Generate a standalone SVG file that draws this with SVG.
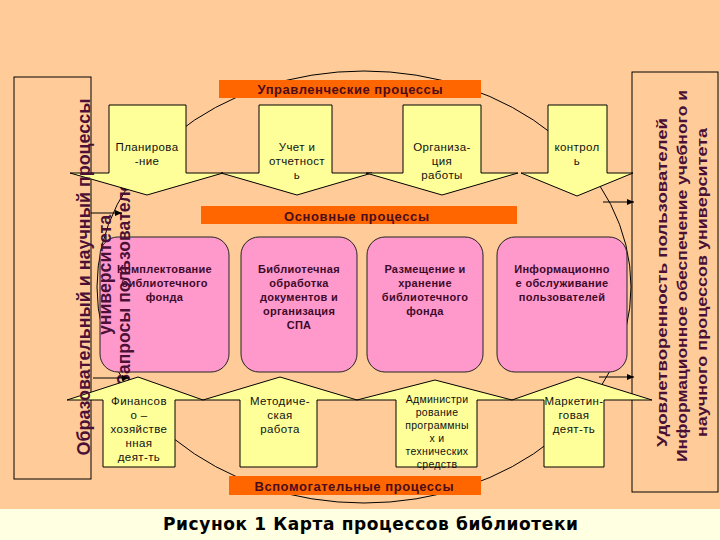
<svg xmlns="http://www.w3.org/2000/svg" width="720" height="540" viewBox="0 0 720 540">
<defs>
<style>
.frame{fill:none;stroke:#000;stroke-width:1}
.yel{fill:#FFFF99;stroke:#000;stroke-width:1}
.pink{fill:#FF99CC;stroke:#222;stroke-width:1}
.ban{fill:#FF6600}
.bt{font-family:"Liberation Sans",Arial,sans-serif;font-weight:bold;font-size:13px;fill:#4a0d1c;text-anchor:middle}
.pt{font-family:"Liberation Sans",Arial,sans-serif;font-weight:bold;font-size:11px;fill:#3d0a2a;text-anchor:middle;letter-spacing:0.3px}
.yt{font-family:"Liberation Sans",Arial,sans-serif;font-size:11.5px;fill:#111;text-anchor:middle;letter-spacing:0.4px}
.ys{font-size:10.5px;letter-spacing:0.3px}
.vt{font-family:"Liberation Sans",Arial,sans-serif;font-weight:bold;fill:#4a1035;text-anchor:middle}
.conn{stroke:#000;stroke-width:1;fill:none}
</style>
<marker id="ah" markerWidth="8" markerHeight="8" refX="7" refY="4" orient="auto" markerUnits="userSpaceOnUse"><path d="M0,1 L7,4 L0,7 Z" fill="#000"/></marker>
</defs>
<rect x="0" y="0" width="720" height="540" fill="#FFCC99"/>
<rect x="0" y="509" width="720" height="31" fill="#FFFFE1"/>
<ellipse cx="364" cy="287" rx="267" ry="216" class="frame"/>

<g id="left-box"><rect x="14" y="77" width="77" height="402" class="frame"/></g>
<g id="right-box">
<rect x="632" y="72" width="86" height="420" class="frame"/>
<text class="vt" font-size="15" transform="translate(667,282.5) rotate(-90)" textLength="329" lengthAdjust="spacingAndGlyphs">Удовлетворенность пользователей</text>
<text class="vt" font-size="15" transform="translate(687,276) rotate(-90)" textLength="372" lengthAdjust="spacingAndGlyphs">Информационное обеспечение учебного и</text>
<text class="vt" font-size="15" transform="translate(707,282.5) rotate(-90)" textLength="309" lengthAdjust="spacingAndGlyphs">научного процессов университета</text>
</g>

<g id="box1"><rect x="100" y="237" width="129" height="135" rx="18" class="pink"/>
<text class="pt"><tspan x="164.5" y="273">Комплектование</tspan><tspan x="164.5" y="287">библиотечного</tspan><tspan x="164.5" y="301">фонда</tspan></text></g>
<g id="box2"><rect x="241" y="237" width="116" height="135" rx="18" class="pink"/>
<text class="pt"><tspan x="299" y="273">Библиотечная</tspan><tspan x="299" y="287">обработка</tspan><tspan x="299" y="301">документов и</tspan><tspan x="299" y="315">организация</tspan><tspan x="299" y="329">СПА</tspan></text></g>
<g id="box3"><rect x="367" y="237" width="116" height="135" rx="18" class="pink"/>
<text class="pt"><tspan x="425" y="273">Размещение и</tspan><tspan x="425" y="287">хранение</tspan><tspan x="425" y="301">библиотечного</tspan><tspan x="425" y="315">фонда</tspan></text></g>
<g id="box4"><rect x="497" y="237" width="130" height="135" rx="18" class="pink"/>
<text class="pt"><tspan x="562" y="273">Информационно</tspan><tspan x="562" y="287">е обслуживание</tspan><tspan x="562" y="301">пользователей</tspan></text></g>

<g id="requests">
<text class="vt" font-size="18" transform="translate(110.5,275) rotate(-90)" textLength="120" lengthAdjust="spacingAndGlyphs">университета</text>
<text class="vt" font-size="18" transform="translate(130,278) rotate(-90)" textLength="214" lengthAdjust="spacingAndGlyphs">Запросы пользователей</text>
</g>

<g id="top1"><polygon class="yel" points="109,105 186,105 186,173 223,173 147,195 70,173 109,173"/>
<text class="yt"><tspan x="147" y="151">Планирова</tspan><tspan x="147" y="165">-ние</tspan></text></g>
<g id="top2"><polygon class="yel" points="259,105 332,105 332,173 372,173 297,195 221,173 259,173"/>
<text class="yt"><tspan x="297" y="151">Учет и</tspan><tspan x="297" y="165">отчетност</tspan><tspan x="297" y="179">ь</tspan></text></g>
<g id="top3"><polygon class="yel" points="403,105 481,105 481,173 518,173 442,195 366,173 403,173"/>
<text class="yt"><tspan x="442" y="151">Организа-</tspan><tspan x="442" y="165">ция</tspan><tspan x="442" y="179">работы</tspan></text></g>
<g id="top4"><polygon class="yel" points="548,105 607,105 607,173 633,173 577,196 521,173 548,173"/>
<text class="yt"><tspan x="577" y="151">контрол</tspan><tspan x="577" y="165">ь</tspan></text></g>

<g id="bot1"><polygon class="yel" points="103,467 103,400 67,400 138,377 203,400 175,400 175,467"/>
<text class="yt"><tspan x="139" y="405">Финансов</tspan><tspan x="139" y="419">о –</tspan><tspan x="139" y="433">хозяйстве</tspan><tspan x="139" y="447">нная</tspan><tspan x="139" y="461">деят-ть</tspan></text></g>
<g id="bot2"><polygon class="yel" points="240,467 240,400 203,400 280,377 357,400 317,400 317,467"/>
<text class="yt"><tspan x="280" y="405">Методиче-</tspan><tspan x="280" y="419">ская</tspan><tspan x="280" y="433">работа</tspan></text></g>
<g id="bot3"><polygon class="yel" points="396,467 396,400 357,400 435,380 512,400 477,400 477,467"/>
<text class="yt ys"><tspan x="437" y="403">Администри</tspan><tspan x="437" y="416">рование</tspan><tspan x="437" y="429">программны</tspan><tspan x="437" y="442">х  и</tspan><tspan x="437" y="455">технических</tspan><tspan x="437" y="468">средств</tspan></text></g>
<g id="bot4"><polygon class="yel" points="544,467 544,400 512,400 578,377 652,400 604,400 604,467"/>
<text class="yt"><tspan x="574" y="405">Маркетин-</tspan><tspan x="574" y="419">говая</tspan><tspan x="574" y="433">деят-ть</tspan></text></g>

<g id="banner-top"><rect class="ban" x="219" y="80" width="262" height="18"/>
<text class="bt" x="350" y="94" textLength="185">Управленческие процессы</text></g>
<g id="banner-main"><rect class="ban" x="201" y="206" width="316" height="18"/>
<text class="bt" x="356.5" y="221" textLength="145">Основные процессы</text></g>
<g id="banner-aux"><rect class="ban" x="229" y="476" width="252" height="19"/>
<text class="bt" x="354" y="491" textLength="199">Вспомогательные процессы</text></g>

<g id="connectors">
<path class="conn" d="M91,213 H122" marker-end="url(#ah)"/>
<path class="conn" d="M93,378 H129" marker-end="url(#ah)"/>
<path class="conn" d="M603,202 H634" marker-end="url(#ah)"/>
<path class="conn" d="M599,377 H634" marker-end="url(#ah)"/>
</g>

<g id="edu-text">
<text class="vt" font-size="18" transform="translate(90,277) rotate(-90)" textLength="357" lengthAdjust="spacingAndGlyphs">Образовательный и научный процессы</text>
</g>

<text x="370.5" y="530" font-family="'DejaVu Sans',sans-serif" font-weight="bold" font-size="17" text-anchor="middle" textLength="415" fill="#000">Рисунок 1 Карта процессов библиотеки</text>
</svg>
